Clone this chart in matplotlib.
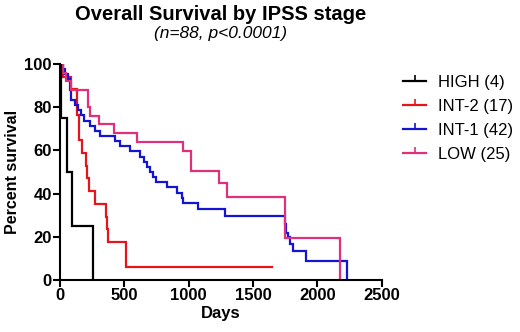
import matplotlib
matplotlib.use('Agg')
import matplotlib.pyplot as plt
from matplotlib.lines import Line2D

plt.rcParams['font.family'] = ['Liberation Sans', 'DejaVu Sans']

# Kaplan-Meier steps: (day, percent survival after step)
high_days = [0, 8, 55, 90, 255]
high_surv = [100, 75, 50, 25, 0]

int2_days = [0, 25, 82, 130, 150, 172, 205, 210, 222, 275, 360, 365, 370, 515, 1650]
int2_surv = [100, 94.1, 88.2, 76.5, 64.7, 58.8, 52.9, 47.1, 41.2, 35.3, 29.4, 23.5, 17.6, 5.9, 5.9]

int1_days = [0, 20, 40, 60, 75, 82, 120, 140, 160, 190, 236, 270, 314, 430, 469, 547,
             624, 650, 680, 702, 720, 745, 831, 908, 947, 955, 1076, 1283, 1750, 1760,
             1774, 1787, 1808, 1916, 2235]
int1_surv = [100, 97.6, 95.2, 92.9, 88.1, 83.3, 81.0, 78.6, 76.2, 73.8, 71.4, 69.0, 66.7,
             64.3, 61.9, 59.5, 57.1, 54.8, 52.4, 50.0, 47.6, 45.2, 42.9, 40.5, 38.1, 35.7,
             32.9, 29.6, 26.0, 21.6, 19.8, 16.5, 13.2, 8.8, 0]

low_days = [0, 25, 50, 82, 216, 236, 300, 417, 598, 960, 1017, 1239, 1301, 1748, 2175]
low_surv = [100, 96, 92, 88, 80, 76, 72, 68, 64, 59.6, 50.5, 44.9, 38.5, 19.3, 0]

labels = ['HIGH (4)', 'INT-2 (17)', 'INT-1 (42)', 'LOW (25)']
colors = ['#000000', '#e8141c', '#1414d2', '#e0307c']

fig = plt.figure(figsize=(5.2, 3.32), dpi=100)
ax = fig.add_axes([0.1154, 0.1566, 0.6183, 0.6506])

series = [(high_days, high_surv), (int2_days, int2_surv),
          (int1_days, int1_surv), (low_days, low_surv)]
# drawing order: INT-2, INT-1, LOW, then HIGH on top
order = [1, 2, 3, 0]
for i in order:
    d, s = series[i]
    ax.plot(d, s, drawstyle='steps-post', color=colors[i], lw=1.6, solid_joinstyle='miter')

ax.set_xlim(0, 2500)
ax.set_ylim(0, 100)
ax.set_xticks(range(0, 2501, 500))
ax.set_yticks(range(0, 101, 20))
for sp in ['top', 'right']:
    ax.spines[sp].set_visible(False)
for sp in ['left', 'bottom']:
    ax.spines[sp].set_linewidth(1.5)
ax.tick_params(width=1.5, length=5, labelsize=12, pad=1)
for t in ax.get_xticklabels() + ax.get_yticklabels():
    t.set_fontweight('bold')

ax.set_xlabel('Days', fontsize=12, fontweight='bold', labelpad=2)
ax.set_ylabel('Percent survival', fontsize=11.5, fontweight='bold', labelpad=3)

fig.text(0.4245, 0.955, 'Overall Survival by IPSS stage', ha='center', va='center',
         fontsize=14.5, fontweight='bold')
fig.text(0.4245, 0.90, '(n=88, p<0.0001)', ha='center', va='center',
         fontsize=12.5, style='italic')

handles = [Line2D([], [], color=c, lw=1.6, marker=2, markersize=4, markeredgewidth=1.2)
           for c in colors]
ax.legend(handles, labels, loc='upper left', bbox_to_anchor=(0.775, 0.774),
          bbox_transform=fig.transFigure, frameon=False, fontsize=12, numpoints=1,
          handlelength=1.4, handletextpad=0.7, labelspacing=0.53, borderpad=0,
          borderaxespad=0)

fig.savefig('out.png', dpi=100)
